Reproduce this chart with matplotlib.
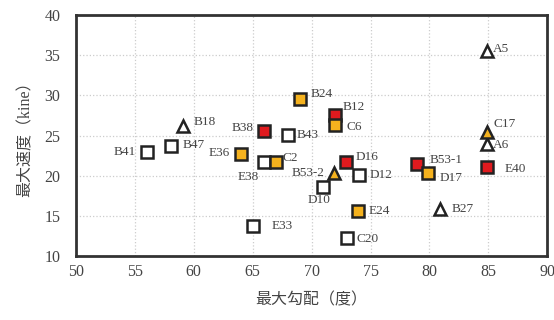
import matplotlib.pyplot as plt

# 最大勾配（度） と 最大速度（kine）
names = ['B41', 'B47', 'B18', 'E36', 'B38', 'B43', 'E38', 'C2', 'E33',
         'B24', 'B12', 'C6', 'B53-2', 'D10', 'D16', 'D12', 'E24', 'C20',
         'B53-1', 'D17', 'B27', 'E40', 'A6', 'C17', 'A5']
slope = [56.0, 58.1, 59.1, 64.0, 66.0, 68.0, 66.0, 67.0, 65.0,
         69.0, 72.0, 72.0, 71.9, 71.0, 72.9, 74.0, 73.9, 73.0,
         78.9, 79.9, 80.9, 84.9, 84.9, 84.9, 84.9]
speed = [23.0, 23.7, 26.2, 22.7, 25.6, 25.1, 21.7, 21.7, 13.7,
         29.5, 27.5, 26.3, 20.3, 18.6, 21.7, 20.1, 15.6, 12.3,
         21.4, 20.3, 15.9, 21.1, 23.9, 25.5, 35.5]
kind = ['sw', 'sw', 'tw', 'so', 'sr', 'sw', 'sw', 'so', 'sw',
        'so', 'sr', 'so', 'to', 'sw', 'sr', 'sw', 'so', 'sw',
        'sr', 'so', 'tw', 'sr', 'tw', 'to', 'tw']

# ラベル位置（ピクセル）
label_dx = [-22, 22, 22, -22, -22, 20, -16, 14, 29,
            22, 19, 19, -26, -4, 21, 22, 22, 21,
            30, 23, 23, 28, 14, 17, 14]
label_dy = [0, 1, 4, 1, 3, 0, -15, 4, 0,
            5, 8, -2, 0, -13, 5, 0, 0, -1,
            4, -5, 0, -2, -1, 8, 2]

face = {'w': 'white', 'o': '#f5b21e', 'r': '#e01a1e'}
shape = {'s': 's', 't': '^'}

plt.rcParams['font.family'] = ['Liberation Serif', 'Noto Sans CJK JP']

fig = plt.figure(figsize=(5.54, 3.2), dpi=100)
ax = fig.add_axes([0.137, 0.2, 0.851, 0.753])

for i in range(len(names)):
    k = kind[i]
    ms = 9.2 if k[0] == 's' else 9
    ax.plot(slope[i], speed[i], marker=shape[k[0]], ms=ms,
            mfc=face[k[1]], mec='#222222', mew=1.8, ls='none', zorder=3 + i)
    ax.annotate(names[i], (slope[i], speed[i]),
                xytext=(label_dx[i] * 0.72, label_dy[i] * 0.72),
                textcoords='offset points', ha='center', va='center',
                fontsize=9.5, color='#444444', zorder=40)

ax.set_xlim(50, 90)
ax.set_ylim(10, 40)
ax.set_xticks(range(50, 91, 5))
ax.set_yticks(range(10, 41, 5))
ax.grid(True, ls=':', color='#cccccc', lw=0.9)
ax.set_axisbelow(True)
ax.tick_params(length=0, labelsize=11.5, colors='#444444')
ax.tick_params(axis='x', pad=6)
ax.tick_params(axis='y', pad=11)
for s in ax.spines.values():
    s.set_linewidth(2)
    s.set_color('#333333')

ax.set_xlabel('最大勾配（度）', fontsize=11.5, color='#444444', labelpad=9)
ax.set_ylabel('最大速度（kine）', fontsize=11.5, color='#444444', labelpad=8)

plt.savefig('out.png', dpi=100)
